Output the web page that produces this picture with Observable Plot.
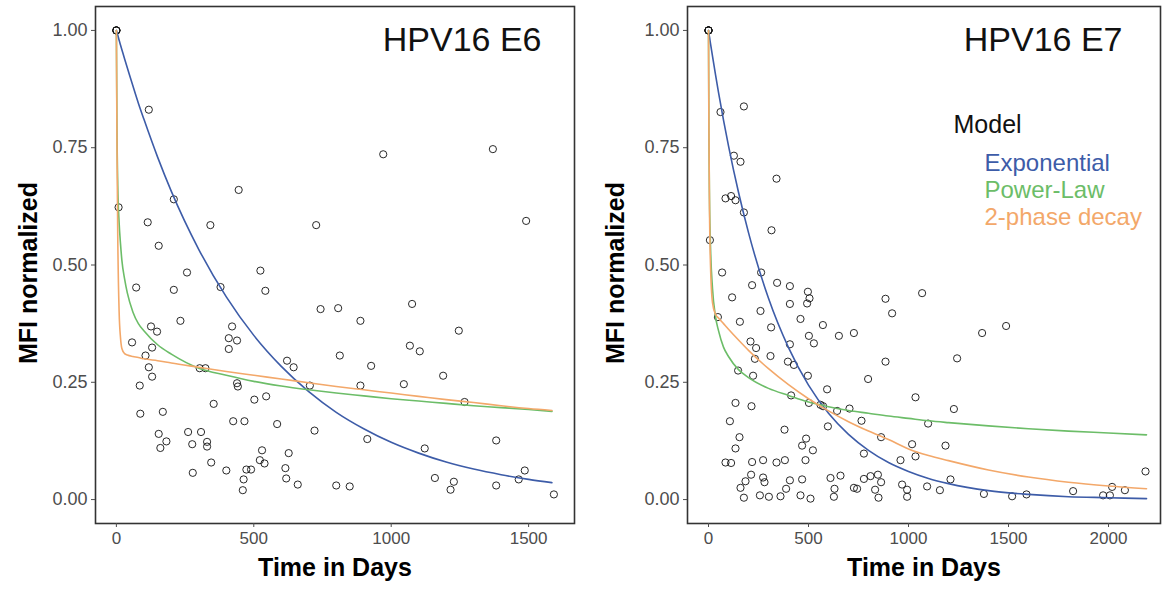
<!DOCTYPE html>
<html><head><meta charset="utf-8">
<script src="https://cdn.jsdelivr.net/npm/d3@7"></script>
<script src="https://cdn.jsdelivr.net/npm/@observablehq/plot@0.6"></script>
<style>
html,body{margin:0;padding:0;background:#fff;}
#root{position:relative;width:1164px;height:590px;overflow:hidden;font-family:"Liberation Sans",Arial,sans-serif;}
#root svg{position:absolute;top:0;}
</style></head><body><div id="root"></div>
<script>
// ---------- Data ----------
const panelTitles = ["HPV16 E6", "HPV16 E7"];
const modelNames = ["Exponential", "Power-Law", "2-phase decay"];
const modelColors = ["#3d5ca8", "#6cbd68", "#f3a86a"];
const yTicks = [0, 0.25, 0.5, 0.75, 1];
const e6XTicks = [0, 500, 1000, 1500];
const e7XTicks = [0, 500, 1000, 1500, 2000];

// HPV16 E6 observations
const e6Days = [0,0,0,0,118,445,209,8,114,342,727,154,971,1370,1491,257,524,72,209,379,542,743,233,126,148,421,409,439,409,57,130,106,118,130,303,324,621,645,85,439,442,704,502,545,354,87,169,425,466,585,721,154,182,160,261,308,276,330,330,530,627,345,522,539,615,278,400,473,490,463,618,660,460,807,1076,888,1246,813,1068,1104,927,1189,888,1046,1267,913,1122,1382,800,849,1159,1228,1216,1382,1486,1464,1592];
const e6Mfi = [1,1,1,1,0.831,0.66,0.64,0.623,0.591,0.585,0.585,0.541,0.736,0.747,0.594,0.484,0.488,0.452,0.447,0.453,0.445,0.406,0.381,0.369,0.358,0.369,0.344,0.339,0.321,0.335,0.324,0.307,0.282,0.262,0.28,0.28,0.296,0.282,0.243,0.248,0.241,0.243,0.213,0.22,0.204,0.183,0.187,0.167,0.167,0.161,0.147,0.14,0.124,0.11,0.144,0.144,0.118,0.123,0.113,0.105,0.099,0.079,0.084,0.077,0.067,0.057,0.062,0.064,0.064,0.043,0.045,0.032,0.02,0.408,0.417,0.381,0.36,0.307,0.328,0.316,0.285,0.264,0.243,0.246,0.208,0.129,0.109,0.126,0.03,0.028,0.046,0.038,0.021,0.03,0.062,0.043,0.011];

// HPV16 E6 fitted curves
const e6CurveDays = [0,2,5,10,15,20,30,40,60,80,100,150,200,300,400,500,600,700,800,900,1000,1100,1200,1300,1400,1500,1585];
const e6Exponential = [1,0.996,0.99,0.979,0.969,0.959,0.939,0.92,0.882,0.845,0.811,0.73,0.657,0.533,0.432,0.35,0.284,0.23,0.186,0.151,0.122,0.099,0.08,0.065,0.053,0.043,0.036];
const e6PowerLaw = [1,0.8,0.67,0.59,0.545,0.51,0.47,0.44,0.4,0.375,0.36,0.33,0.31,0.28,0.265,0.252,0.242,0.234,0.227,0.221,0.215,0.21,0.205,0.2,0.196,0.192,0.188];
const e6TwoPhase = [1,0.77,0.56,0.4,0.345,0.322,0.311,0.308,0.305,0.303,0.3,0.296,0.291,0.282,0.273,0.265,0.257,0.249,0.241,0.234,0.227,0.22,0.213,0.207,0.2,0.194,0.19];

// HPV16 E7 observations
const e7Days = [0,0,0,0,0,60,177,127,160,340,85,113,135,177,315,7,68,263,218,343,407,497,505,493,407,118,885,1068,918,260,460,572,47,157,313,652,727,502,527,210,238,407,232,310,397,427,885,148,223,497,798,593,1035,413,135,215,502,560,573,643,705,765,1098,107,380,597,155,488,468,522,863,1018,135,777,960,1035,85,113,218,273,340,382,485,213,273,185,160,280,407,468,388,360,460,510,177,257,302,610,660,630,627,727,743,777,810,847,863,833,850,968,993,993,1093,1488,1368,1243,1227,1185,1210,1157,1377,1518,1590,1823,1973,2007,2018,2082,2185];
const e7Mfi = [1,1,1,1,1,0.826,0.838,0.733,0.72,0.684,0.642,0.647,0.638,0.612,0.574,0.553,0.484,0.484,0.457,0.462,0.455,0.443,0.429,0.418,0.417,0.431,0.428,0.44,0.397,0.402,0.385,0.372,0.389,0.379,0.367,0.349,0.355,0.349,0.333,0.337,0.323,0.331,0.3,0.306,0.294,0.287,0.294,0.275,0.264,0.264,0.257,0.235,0.218,0.222,0.206,0.199,0.206,0.202,0.199,0.189,0.194,0.168,0.162,0.167,0.149,0.156,0.133,0.13,0.115,0.105,0.133,0.118,0.109,0.098,0.084,0.092,0.079,0.078,0.08,0.084,0.079,0.084,0.084,0.053,0.047,0.039,0.025,0.037,0.041,0.043,0.023,0.007,0.009,0.002,0.004,0.009,0.006,0.046,0.051,0.023,0.006,0.025,0.023,0.044,0.05,0.053,0.037,0.021,0.004,0.032,0.021,0.006,0.028,0.37,0.355,0.301,0.193,0.115,0.043,0.02,0.012,0.007,0.011,0.018,0.009,0.009,0.027,0.02,0.06];

// HPV16 E7 fitted curves
const e7CurveDays = [0,2,5,10,20,35,50,75,100,150,200,300,400,500,600,700,800,900,1000,1100,1200,1400,1600,1800,2000,2190];
const e7Exponential = [1,0.994,0.986,0.972,0.945,0.906,0.868,0.809,0.754,0.655,0.569,0.429,0.324,0.244,0.184,0.139,0.105,0.079,0.06,0.045,0.034,0.019,0.011,0.006,0.004,0.002];
const e7PowerLaw = [1,0.78,0.64,0.54,0.45,0.39,0.36,0.325,0.305,0.277,0.26,0.237,0.222,0.208,0.198,0.19,0.184,0.178,0.173,0.168,0.164,0.157,0.151,0.146,0.142,0.138];
const e7TwoPhase = [1,0.8,0.62,0.5,0.42,0.395,0.387,0.375,0.363,0.34,0.318,0.279,0.245,0.215,0.189,0.166,0.146,0.128,0.108,0.094,0.083,0.063,0.048,0.037,0.029,0.023];

// ---------- Build ----------
const FONT = "'Liberation Sans', Arial, sans-serif";
function pts(days, mfi) { return days.map((d, i) => ({day: d, mfi: mfi[i]})); }
function curves(days, lists) {
  const out = [];
  lists.forEach((vals, m) => days.forEach((d, i) => out.push({day: d, mfi: vals[i], model: modelNames[m]})));
  return out;
}

function panel(cfg) {
  const lines = curves(cfg.curveDays, cfg.curveLists);
  const marks = [
    Plot.dot(pts(cfg.days, cfg.mfi), {x: "day", y: "mfi", r: 3.6, stroke: "#111", strokeWidth: 0.9, fill: "none"}),
    ...modelNames.map((m, i) => Plot.line(lines.filter(d => d.model === m), {x: "day", y: "mfi", stroke: modelColors[i], strokeWidth: 1.6, curve: "monotone-x"})),
    Plot.frame({stroke: "#333", strokeWidth: 1.6}),
    Plot.axisX({ticks: cfg.xTicks, tickSize: 4, tickPadding: 4, fontSize: 17, label: null, color: "#4d4d4d", tickFormat: d3.format("d")}),
    Plot.axisY({ticks: yTicks, tickSize: 4, tickPadding: 4, fontSize: 18, label: null, color: "#4d4d4d", tickFormat: d3.format(".2f")}),
    Plot.text(["Time in Days"], {frameAnchor: "bottom", lineAnchor: "middle", textAnchor: "middle", dy: 44, fontSize: 25, fontWeight: "bold", fill: "#000"}),
    Plot.text(["MFI normalized"], {frameAnchor: "left", lineAnchor: "middle", textAnchor: "middle", rotate: -90, dx: cfg.yTitleDx, dy: 8, fontSize: 25, fontWeight: "bold", fill: "#000"}),
    Plot.text([cfg.title], {frameAnchor: "top-right", lineAnchor: "middle", textAnchor: "end", dx: cfg.titleDx, dy: 34, fontSize: 34, fill: "#111"})
  ];
  if (cfg.legend) {
    marks.push(Plot.text(["Model"], {frameAnchor: "top-left", lineAnchor: "middle", textAnchor: "start", dx: 266, dy: 118, fontSize: 25, fill: "#111"}));
    modelNames.forEach((m, i) => marks.push(Plot.text([m], {frameAnchor: "top-left", lineAnchor: "middle", textAnchor: "start", dx: 297, dy: 157 + i * 27, fontSize: 24, fill: modelColors[i]})));
  }
  const svg = Plot.plot({
    width: cfg.width, height: 590,
    marginLeft: cfg.marginLeft, marginRight: cfg.marginRight, marginTop: 6, marginBottom: 67,
    x: {domain: cfg.xDomain},
    y: {domain: [-0.051, 1.051]},
    style: {fontFamily: FONT, background: "transparent", overflow: "visible"},
    marks
  });
  svg.style.left = cfg.left + "px";
  return svg;
}

const root = document.getElementById("root");
root.appendChild(panel({
  left: 0, width: 582, marginLeft: 95, marginRight: 8,
  xDomain: [-76, 1667], xTicks: e6XTicks, yTitleDx: -67, titleDx: -33,
  title: panelTitles[0], days: e6Days, mfi: e6Mfi,
  curveDays: e6CurveDays, curveLists: [e6Exponential, e6PowerLaw, e6TwoPhase], legend: false
}));
root.appendChild(panel({
  left: 600, width: 564, marginLeft: 87, marginRight: 4,
  xDomain: [-105, 2260], xTicks: e7XTicks, yTitleDx: -72, titleDx: -38,
  title: panelTitles[1], days: e7Days, mfi: e7Mfi,
  curveDays: e7CurveDays, curveLists: [e7Exponential, e7PowerLaw, e7TwoPhase], legend: true
}));
</script></body></html>
